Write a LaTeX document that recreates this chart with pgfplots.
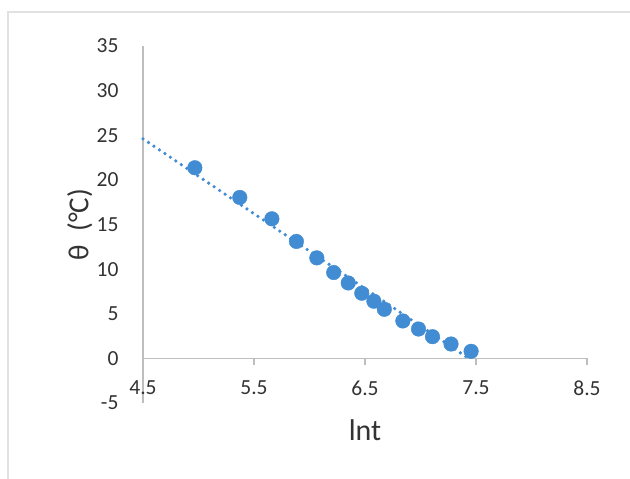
\documentclass[border=0pt]{standalone}
\usepackage{fontspec}
\setmainfont{Carlito}
\usepackage{pgfplots}
\pgfplotsset{compat=1.18}
\definecolor{ptblue}{RGB}{65,140,210}
\definecolor{axgray}{RGB}{190,190,190}
\definecolor{framegray}{RGB}{225,225,225}

\begin{document}
\begin{tikzpicture}[x=1pt,y=1pt]
\useasboundingbox (0,0) rectangle (630,479);
\fill[white] (0,0) rectangle (630,479);
\draw[framegray, line width=1.5pt] (8,-2) -- (8,467) -- (632,467);
\begin{axis}[
  at={(143pt,76pt)}, anchor=south west,
  scale only axis, width=444pt, height=357pt,
  xmin=4.5, xmax=8.5, ymin=-5, ymax=35,
  xtick={4.5,5.5,6.5,7.5,8.5}, ytick={-5,0,...,35},
  axis x line=middle, axis y line=left,
  axis line style={-, axgray, line width=1.2pt},
  hide obscured x ticks=false, hide obscured y ticks=false,
  tick align=outside, major tick length=7pt,
  xtick style={axgray, line width=1.2pt},
  ytick style={draw=none},
  /pgf/number format/assume math mode=true,
  /pgf/number format/fixed,
  ticklabel style={font=\fontsize{21.5}{25}\selectfont, text=black!80},
  xticklabel style={anchor=north, yshift=-12pt},
  yticklabel style={anchor=east, xshift=-14pt},
  xlabel={lnt}, ylabel={θ\ \ (°C)},
  xlabel style={font=\fontsize{30}{34}\selectfont, text=black!80, at={(axis description cs:0.5,0)}, anchor=north, yshift=-13pt},
  ylabel style={font=\fontsize{29}{33}\selectfont, text=black!80, at={(axis description cs:0,0.5)}, anchor=south, yshift=47pt},
  clip=false,
]
% trendline (linear, extended back to 4.5)
\addplot[ptblue, line width=3.6pt, dash pattern=on 0pt off 6.6pt, line cap=round] coordinates {
  (4.5,24.6) (7.456,-0.2) };
\addplot[only marks, mark=*, mark size=7.3pt, ptblue, mark options={draw=ptblue, fill=ptblue}] coordinates {
  (4.967,21.36) (5.372,18.03) (5.661,15.64) (5.882,13.10) (6.066,11.26)
  (6.218,9.62) (6.349,8.45) (6.471,7.30) (6.580,6.40) (6.674,5.50)
  (6.841,4.19) (6.982,3.29) (7.108,2.43) (7.275,1.61) (7.456,0.79) };
\end{axis}
\end{tikzpicture}
\end{document}
